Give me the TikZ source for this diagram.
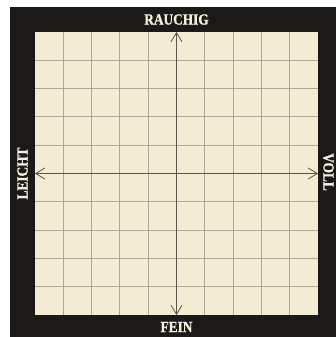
\documentclass[tikz,border=0pt]{standalone}
\usepackage{fontspec}
\setmainfont{Liberation Serif}
\newfontfamily\labfont[FakeBold=1.2]{Liberation Serif Bold}
\usetikzlibrary{arrows.meta}
\definecolor{frame}{HTML}{1C1A19}
\definecolor{paper}{HTML}{F3EBD3}
\definecolor{gridc}{HTML}{ADA794}
\definecolor{axisc}{HTML}{5A554D}
\definecolor{labc}{HTML}{F4EEDF}
\newcommand{\labtext}[1]{\scalebox{0.86}[1]{\labfont\fontsize{15.5}{15.5}\selectfont #1}}
\tikzset{
  lab/.style={text=labc, inner sep=0pt},
  gridline/.style={draw=gridc, line width=1pt},
  axis/.style={draw=axisc, line width=1.1pt, arrows={Straight Barb[length=9pt,width=11pt,line width=0.8pt]-Straight Barb[length=9pt,width=11pt,line width=0.8pt]}}
}
\begin{document}
\begin{tikzpicture}[x=1pt,y=-1pt]
\useasboundingbox (0,0) rectangle (336,337);
\fill[white] (0,0) rectangle (336,337);
\fill[frame] (10,7) rectangle (336,337);
\fill[paper] (35,32) rectangle (318,315);
\foreach \i in {1,...,9} {
  \draw[gridline] ({35+28.3*\i},32) -- ({35+28.3*\i},315);
  \draw[gridline] (35,{32+28.3*\i}) -- (318,{32+28.3*\i});
}
\coordinate (top) at (176.5,32);
\coordinate (bot) at (176.5,315);
\coordinate (lft) at (35,173.5);
\coordinate (rgt) at (318,173.5);
\draw[axis] (bot) -- (top);
\draw[axis] (lft) -- (rgt);
\node[lab] (rauchig) at (176.5,19.5) {\labtext{RAUCHIG}};
\node[lab] (fein) at (176.5,327) {\labtext{FEIN}};
\node[lab, rotate=90] (leicht) at (22.5,173.5) {\labtext{LEICHT}};
\node[lab, rotate=-90] (voll) at (328.5,172) {\labtext{VOLL}};
\end{tikzpicture}
\end{document}
